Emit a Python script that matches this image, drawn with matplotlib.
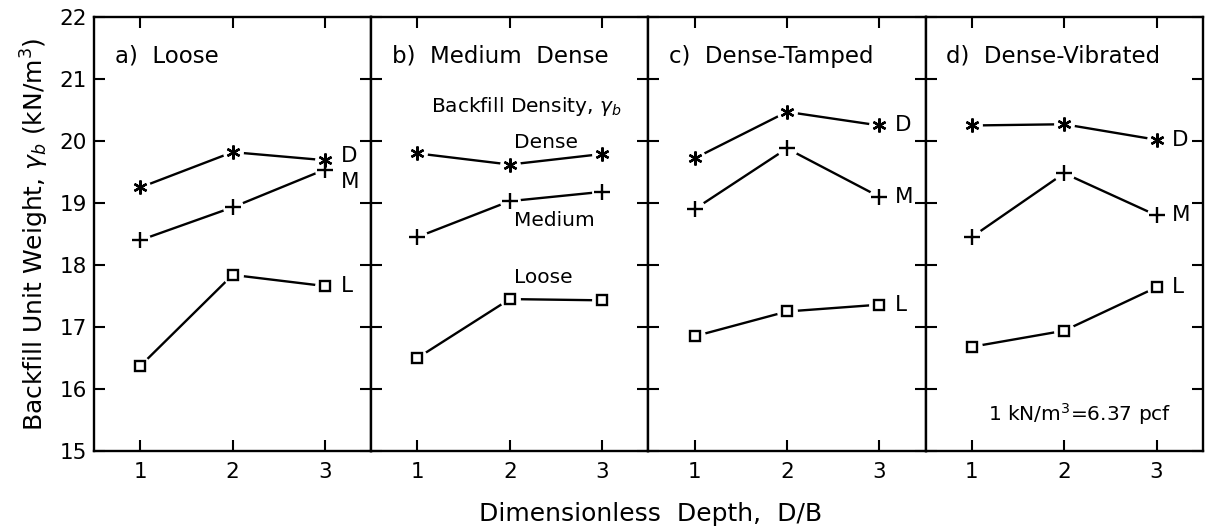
import numpy as np
import matplotlib.pyplot as plt

depth = [1, 2, 3]
panels = ['a)  Loose', 'b)  Medium  Dense', 'c)  Dense-Tamped', 'd)  Dense-Vibrated']

# backfill unit weight (kN/m3) per panel: dense, medium, loose backfill
dense = [[19.25, 19.82, 19.69],
         [19.80, 19.62, 19.79],
         [19.72, 20.47, 20.25],
         [20.25, 20.27, 20.02]]
medium = [[18.40, 18.93, 19.54],
          [18.45, 19.03, 19.18],
          [18.90, 19.88, 19.10],
          [18.45, 19.48, 18.80]]
loose = [[16.37, 17.84, 17.66],
         [16.50, 17.45, 17.43],
         [16.85, 17.25, 17.36],
         [16.68, 16.94, 17.64]]

plt.rcParams['font.family'] = 'DejaVu Sans'
plt.rcParams['mathtext.fontset'] = 'dejavusans'

fig, axarr = plt.subplots(1, 4, sharey=True, figsize=(12.1, 5.31), dpi=100)
fig.subplots_adjust(left=0.0777, right=0.994, bottom=0.1507, top=0.968, wspace=0)

asterisk = (6, 2, 0)
for i, ax in enumerate(axarr):
    for vals, mk, ms, mfc in [(dense[i], asterisk, 10, 'k'),
                              (medium[i], '+', 11, 'k'),
                              (loose[i], 's', 7.5, 'white')]:
        ax.plot(depth, vals, '-', color='k', lw=1.7, zorder=2)
        ax.plot(depth, vals, 'o', ms=15, mfc='white', mec='none', zorder=3)
        ax.plot(depth, vals, ls='none', marker=mk, ms=ms, mfc=mfc, mec='k',
                mew=1.7, zorder=4)
    ax.set_xlim(0.5, 3.5)
    ax.set_ylim(15, 22)
    ax.set_xticks(depth)
    ax.set_yticks(range(15, 23))
    ax.tick_params(direction='in', length=8, width=1.5, top=True, right=True,
                   labelsize=15.5)
    ax.tick_params(axis='x', pad=8)
    ax.tick_params(axis='y', pad=5)
    for s in ax.spines.values():
        s.set_linewidth(1.7)
    ax.text(0.075, 0.91, panels[i], transform=ax.transAxes, fontsize=16.5,
            va='center', ha='left')
    if i > 0:
        ax.tick_params(labelleft=False)
    if i != 1:
        dy = [0.07, -0.2] if i == 0 else [0, 0]
        ax.text(3.17, dense[i][2] + dy[0], 'D', fontsize=15.5, va='center')
        ax.text(3.17, medium[i][2] + dy[1], 'M', fontsize=15.5, va='center')
        ax.text(3.17, loose[i][2], 'L', fontsize=15.5, va='center')

axb = axarr[1]
axb.text(1.15, 20.55, r'Backfill Density, $\gamma_b$', fontsize=14.5, va='center')
axb.text(2.05, 19.98, 'Dense', fontsize=14.5, va='center')
axb.text(2.05, 18.72, 'Medium', fontsize=14.5, va='center')
axb.text(2.05, 17.8, 'Loose', fontsize=14.5, va='center')

axarr[3].text(2.17, 15.6, r'1 kN/m$^3$=6.37 pcf', fontsize=14.5, va='center',
              ha='center')

axarr[0].set_ylabel(r'Backfill Unit Weight, $\gamma_b$ (kN/m$^3$)', fontsize=18,
                    labelpad=6)
fig.text(0.538, 0.032, 'Dimensionless  Depth,  D/B', fontsize=18, ha='center',
         va='center')

plt.savefig('out.png')
